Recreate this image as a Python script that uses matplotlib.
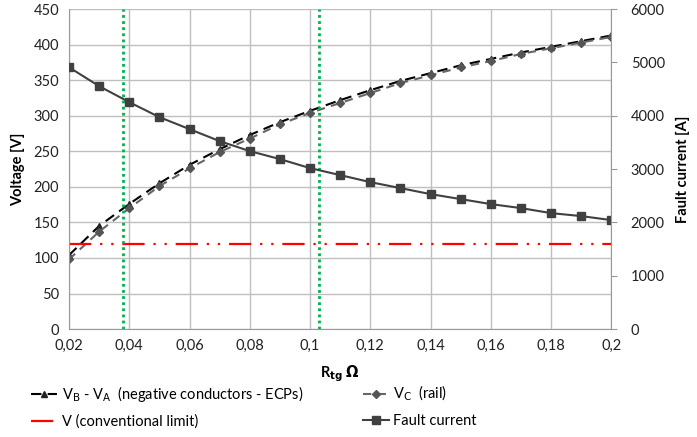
import numpy as np
import matplotlib.pyplot as plt
from matplotlib.ticker import FuncFormatter

plt.rcParams['font.family'] = ['Lato', 'DejaVu Sans']

# data
r_tg = [0.02, 0.03, 0.04, 0.05, 0.06, 0.07, 0.08, 0.09, 0.10, 0.11,
        0.12, 0.13, 0.14, 0.15, 0.16, 0.17, 0.18, 0.19, 0.20]
v_ba = [104, 145, 176, 205, 231, 253, 273, 291, 307, 322,
        336, 349, 360, 371, 380, 389, 397, 405, 413]
v_c = [98, 137, 170, 201, 226, 249, 268, 288, 304, 318,
       332, 346, 357, 368, 377, 387, 395, 403, 411]
fault_current = [4910, 4556, 4256, 3975, 3750, 3525, 3338, 3188, 3019, 2888,
                 2756, 2644, 2531, 2438, 2344, 2269, 2175, 2119, 2044]
v_limit = 120
r_marks = [0.038, 0.103]

fig = plt.figure(figsize=(6.97, 4.37), dpi=100)
ax = fig.add_axes([0.099, 0.247, 0.778, 0.732])
ax2 = ax.twinx()

ln1, = ax.plot(r_tg, v_ba, color='black', ls=(0, (5, 3)), lw=1.5,
               marker='^', ms=5, mfc='#222222', mec='#222222')
ln2, = ax.plot(r_tg, v_c, color='#666666', ls=(0, (4, 3)), lw=1.5,
               marker='D', ms=4.5, mfc='#555555', mec='#555555')
ln3 = ax.axhline(v_limit, color='red', lw=1.6, ls=(0, (10, 4, 1, 4, 1, 4)))
for r in r_marks:
    ax.axvline(r, color='#00b050', lw=2, ls=(0, (1, 1.2)))
ln4, = ax2.plot(r_tg, fault_current, color='#404040', lw=1.5,
                marker='s', ms=6, mfc='#404040', mec='#404040')

ax.set_xlim(0.02, 0.2)
ax.set_ylim(0, 450)
ax2.set_ylim(0, 6000)
ax.set_xticks(np.arange(0.02, 0.2001, 0.02))
ax.set_yticks(np.arange(0, 451, 50))
ax2.set_yticks(np.arange(0, 6001, 1000))
ax.xaxis.set_major_formatter(FuncFormatter(lambda v, p: ('%g' % round(v, 2)).replace('.', ',')))

ax.grid(True, color='#bfbfbf', lw=1)
ax.set_axisbelow(True)
for a in (ax, ax2):
    for s in a.spines.values():
        s.set_visible(False)
    a.tick_params(labelsize=10.5, colors='#222222')
ax.spines['bottom'].set_visible(True)
ax.spines['bottom'].set_color('#999999')
ax.spines['left'].set_visible(True)
ax.spines['left'].set_color('#999999')
ax2.spines['right'].set_visible(True)
ax2.spines['right'].set_color('#999999')
ax.tick_params(axis='both', length=0, pad=7)
ax2.tick_params(axis='y', length=4, color='#999999', pad=10)

ax.set_ylabel('Voltage [V]', fontsize=10.5, fontweight='bold', labelpad=6)
ax2.set_ylabel('Fault current [A]', fontsize=10.5, fontweight='bold', labelpad=8)
ax.set_xlabel(r'R$_{\mathbf{tg}}$ $\mathbf{\Omega}$', fontsize=10.5, fontweight='bold', labelpad=8)

# ncol=2 fills column-wise, so order handles to get rows: (VB-VA, VC), (limit, current)
fig.legend([ln1, ln3, ln2, ln4],
           [r'V$_\mathrm{B}$ - V$_\mathrm{A}$  (negative conductors - ECPs)',
            'V (conventional limit)', r'V$_\mathrm{C}$  (rail)', 'Fault current'],
           loc='lower left', bbox_to_anchor=(0.03, -0.005), ncol=2, frameon=False,
           fontsize=10.5, handlelength=1.8, handletextpad=0.3, columnspacing=4.1,
           labelspacing=0.75, borderaxespad=0.3)

fig.savefig('out.png', dpi=100)
